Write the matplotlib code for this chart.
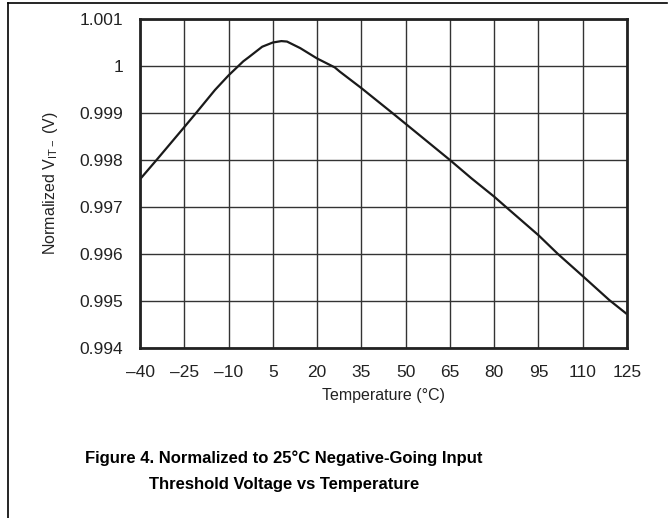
import matplotlib
matplotlib.use("Agg")
import matplotlib.pyplot as plt
from matplotlib.lines import Line2D

plt.rcParams["font.family"] = ["Liberation Sans", "DejaVu Sans"]
plt.rcParams["mathtext.fontset"] = "custom"
plt.rcParams["mathtext.rm"] = "Liberation Sans"
plt.rcParams["mathtext.it"] = "Liberation Sans:italic"

# curve
temp = [-40, -34.4, -25, -21, -14.6, -10, -7.5, -5, -3.1, 1.4, 5, 7.9, 9.8,
        14.3, 20, 26, 27.7, 35, 45.5, 50, 65, 72.3, 80, 84, 95, 101.6,
        110, 119, 125]
vit = [0.99759, 0.998, 0.99870, 0.999, 0.99949, 0.99980, 0.99995, 1.00010,
       1.00019, 1.00041, 1.00050, 1.00053, 1.00052, 1.00038, 1.00016,
       0.99997, 0.99988, 0.99953, 0.999, 0.99877, 0.998, 0.99761, 0.99722,
       0.997, 0.99640, 0.996, 0.99553, 0.99502, 0.99472]

xticks = list(range(-40, 126, 15))
xlabels = [("\u2013" + str(-t)) if t < 0 else str(t) for t in xticks]
yticks = [0.994, 0.995, 0.996, 0.997, 0.998, 0.999, 1.000, 1.001]
ylabels = ["0.994", "0.995", "0.996", "0.997", "0.998", "0.999", "1", "1.001"]

fig = plt.figure(figsize=(6.71, 5.18), dpi=100)
ax = fig.add_axes([140 / 671, 1 - 348 / 518, 487 / 671, 329 / 518])

ax.plot(temp, vit, color="#1a1a1a", lw=1.6, solid_capstyle="butt",
        solid_joinstyle="round")
ax.set_xlim(-40, 125)
ax.set_ylim(0.994, 1.001)
ax.set_xticks(xticks)
ax.set_xticklabels(xlabels)
ax.set_yticks(yticks)
ax.set_yticklabels(ylabels)
ax.tick_params(length=0, labelsize=12.5, pad=12, colors="#222222")
ax.grid(True, color="#333333", lw=1.0)
ax.set_axisbelow(True)
for s in ax.spines.values():
    s.set_linewidth(2.0)
    s.set_color("#222222")

ax.set_xlabel("Temperature (\u00b0C)", fontsize=11.5, color="#222222", labelpad=6)
ax.set_ylabel(r"Normalized V$_{\mathrm{IT-}}$ (V)", fontsize=11.5,
              color="#222222", labelpad=14)

fig.text(284 / 671, 1 - 458 / 518,
         "Figure 4. Normalized to 25\u00b0C Negative-Going Input",
         ha="center", va="center", fontsize=12, fontweight="bold")
fig.text(284 / 671, 1 - 484 / 518,
         "Threshold Voltage vs Temperature",
         ha="center", va="center", fontsize=12, fontweight="bold")

# page frame lines
fig.add_artist(Line2D([8 / 671, 8 / 671], [0, 1 - 2.5 / 518],
                      transform=fig.transFigure, color="black", lw=1.2))
fig.add_artist(Line2D([8 / 671, 667 / 671], [1 - 2.5 / 518, 1 - 2.5 / 518],
                      transform=fig.transFigure, color="black", lw=1.2))

fig.savefig("out.png", dpi=100)
